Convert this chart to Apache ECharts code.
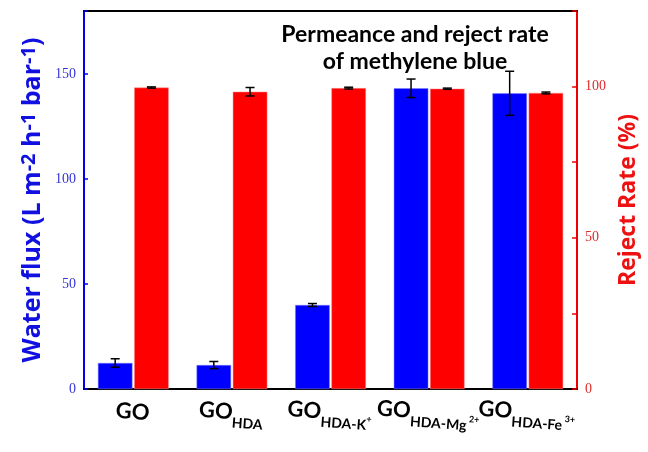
<!DOCTYPE html>
<html><head><meta charset="utf-8">
<script src="https://cdn.jsdelivr.net/npm/echarts@6/dist/echarts.min.js"></script>
<style>html,body{margin:0;padding:0;background:#fff}#c{width:648px;height:452px}</style>
</head><body><div id="c"></div>
<script>
var categories = ['GO', 'GO_HDA', 'GO_HDA-K+', 'GO_HDA-Mg2+', 'GO_HDA-Fe3+'];
var categoryLabels = ['{m|GO}', '{m|GO}{s|HDA}', '{m|GO}{s|HDA-K}{p|+}', '{m|GO}{s|HDA-Mg}{p| 2+}', '{m|GO}{s|HDA-Fe}{p| 3+}'];
var fluxValues = [12.4, 11.4, 40.0, 143.2, 140.8];
var fluxErrors = [2.0, 1.7, 0.7, 4.4, 10.5];
var rejectValues = [99.7, 98.3, 99.5, 99.3, 97.9];
var rejectErrors = [0.2, 1.4, 0.3, 0.2, 0.3];
var leftTicks = [0, 50, 100, 150];
var rightTicks = [0, 50, 100];

var BAR_FRAC = 0.35, GAP = 0.05;
function errSeries(vals, errs, yIdx, sign) {
  return {
    type: 'custom', yAxisIndex: yIdx, z: 10,
    data: vals.map(function (v, i) { return [i, v, errs[i]]; }),
    renderItem: function (params, api) {
      var i = api.value(0), v = api.value(1), e = api.value(2);
      var cw = api.size([1, 0])[0];
      var off = sign * cw * BAR_FRAC * (1 + GAP) / 2;
      var hi = api.coord([i, v + e]), lo = api.coord([i, v - e]);
      var x = hi[0] + off, cap = 4.5;
      var st = { stroke: '#000', lineWidth: 1.5 };
      return { type: 'group', children: [
        { type: 'line', shape: { x1: x, y1: hi[1], x2: x, y2: lo[1] }, style: st },
        { type: 'line', shape: { x1: x - cap, y1: hi[1], x2: x + cap, y2: hi[1] }, style: st },
        { type: 'line', shape: { x1: x - cap, y1: lo[1], x2: x + cap, y2: lo[1] }, style: st }
      ]};
    }
  };
}

var chart = echarts.init(document.getElementById('c'));
chart.setOption({
  animation: false,
  backgroundColor: '#fff',
  title: {
    text: 'Permeance and reject rate\nof methylene blue',
    left: 410, top: 16, textAlign: 'center',
    textStyle: { fontFamily: 'Lato', fontWeight: 'bold', fontSize: 23, lineHeight: 27, color: '#000' }
  },
  grid: { left: 84, right: 60, top: 11, bottom: 63 },
  xAxis: [{
    type: 'category', data: categories, position: 'bottom',
    axisLine: { onZero: false, lineStyle: { color: '#000', width: 2 } },
    axisTick: { show: false },
    axisLabel: {
      margin: 12, rotate: -4, align: 'center', verticalAlign: 'top', interval: 0,
      formatter: function (v, i) { return categoryLabels[i]; },
      rich: {
        m: { fontFamily: 'Lato', fontWeight: 'bold', fontSize: 22, lineHeight: 24, color: '#000', verticalAlign: 'top' },
        s: { fontFamily: 'Lato', fontWeight: 'bold', fontSize: 14, lineHeight: 16, padding: [15, 0, 0, 0], color: '#000', verticalAlign: 'top' },
        p: { fontFamily: 'Lato', fontWeight: 'bold', fontSize: 9, lineHeight: 10, padding: [11, 0, 0, 0], color: '#000', verticalAlign: 'top' }
      }
    }
  }, {
    type: 'category', data: categories, position: 'top',
    axisLine: { onZero: false, lineStyle: { color: '#000', width: 2 } },
    axisTick: { show: false }, axisLabel: { show: false }
  }],
  yAxis: [{
    type: 'value', min: 0, max: 180, interval: 50, position: 'left',
    splitLine: { show: false },
    axisLine: { show: true, onZero: false, lineStyle: { color: '#0000ee', width: 2 } },
    axisTick: { show: true, inside: true, length: 4, lineStyle: { color: '#0000ee', width: 1.5 } },
    axisLabel: {
      color: '#3434d8', fontFamily: 'Liberation Serif', fontSize: 14, margin: 8,
      formatter: function (v) { return leftTicks.indexOf(v) >= 0 ? String(v) : ''; }
    },
    name: 'Water flux (L m{sup|-2} h{sup|-1} bar{sup|-1})',
    nameLocation: 'middle', nameRotate: 90, nameGap: 36, nameMoveOverlap: false,
    nameTextStyle: {
      color: '#1010e0', fontFamily: 'Open Sans', fontWeight: 'bold', fontSize: 25, lineHeight: 30,
      rich: { sup: { color: '#1010e0', fontFamily: 'Open Sans', fontWeight: 'bold', fontSize: 20, lineHeight: 30, verticalAlign: 'bottom', padding: [0, 0, 9, 0] } }
    }
  }, {
    type: 'value', min: 0, max: 125, interval: 25, position: 'right',
    splitLine: { show: false },
    axisLine: { show: true, onZero: false, lineStyle: { color: '#ee0000', width: 2 } },
    axisTick: { show: true, inside: true, length: 5, lineStyle: { color: '#ee0000', width: 1.5 } },
    axisLabel: {
      color: '#e02a2a', fontFamily: 'Liberation Serif', fontSize: 14, margin: 8,
      formatter: function (v) { return rightTicks.indexOf(v) >= 0 ? String(v) : ''; }
    },
    name: 'Reject Rate (%)',
    nameLocation: 'middle', nameRotate: 90, nameGap: 23,
    nameTextStyle: { color: '#ee1111', fontFamily: 'Open Sans', fontWeight: 'bold', fontSize: 23 }
  }],
  series: [{
    type: 'bar', yAxisIndex: 0, data: fluxValues, barWidth: '35%', barGap: '5%',
    itemStyle: { color: '#0000ff', borderColor: '#8080ff', borderWidth: 0.5 }
  }, {
    type: 'bar', yAxisIndex: 1, data: rejectValues, barWidth: '35%', barGap: '5%',
    itemStyle: { color: '#ff0000', borderColor: '#ff9090', borderWidth: 0.5 }
  },
  errSeries(fluxValues, fluxErrors, 0, -1),
  errSeries(rejectValues, rejectErrors, 1, 1)]
});
</script></body></html>
